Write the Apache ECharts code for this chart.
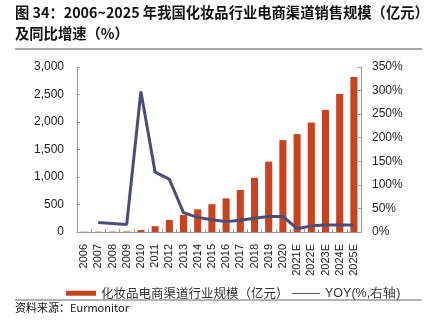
<!DOCTYPE html>
<html>
<head>
<meta charset="utf-8">
<script src="https://cdn.jsdelivr.net/npm/echarts@6/dist/echarts.min.js"></script>
<style>
html,body{margin:0;padding:0;background:#fff;}
#c{width:430px;height:323px;}
</style>
</head>
<body>
<div id="c"></div>
<script>
var categories = ['2006','2007','2008','2009','2010','2011','2012','2013','2014','2015','2016','2017','2018','2019','2020','2021E','2022E','2023E','2024E','2025E'];
var scaleValues = [5,6,7,9,36,105,218,309,412,505,612,764,985,1280,1670,1780,1990,2220,2510,2820];
var yoyValues = [null,20,18,16,298,127,112,41,31,26,22,25,29,33,33,7,13,15,15,15];
var leftTicks = [0,500,1000,1500,2000,2500,3000];
var rightTicks = [0,50,100,150,200,250,300,350];
var titleLines = ['图 34：2006~2025 年我国化妆品行业电商渠道销售规模（亿元）','及同比增速（%）'];
var seriesNames = ['化妆品电商渠道行业规模（亿元）','YOY(%,右轴)'];
var sourceText = '资料来源：Eurmonitor';

var chart = echarts.init(document.getElementById('c'), null, {renderer:'canvas'});
var latin = 'Liberation Sans, Arial, sans-serif';
var cjk = '"Noto Sans CJK SC", "Liberation Sans", sans-serif';
chart.setOption({
  animation:false,
  backgroundColor:'#fff',
  graphic:[
    {type:'text', left:15, top:5, style:{text:titleLines[0], font:'bold 14.3px "Noto Sans CJK SC", sans-serif', fill:'#111'}},
    {type:'text', left:15, top:26, style:{text:titleLines[1], font:'bold 14.3px "Noto Sans CJK SC", sans-serif', fill:'#111'}},
    {type:'line', shape:{x1:15,y1:49,x2:422,y2:49}, style:{stroke:'#888', lineWidth:1.5}},
    {type:'line', shape:{x1:15,y1:300,x2:422,y2:300}, style:{stroke:'#666', lineWidth:1}},
    {type:'text', left:15, top:302, style:{text:sourceText, font:'11px "Noto Sans CJK SC", sans-serif', fill:'#111'}}
  ],
  grid:{left:77, right:69, top:67, bottom:91},
  legend:[{
    left:61, top:282, itemWidth:30, itemHeight:5,
    textStyle:{fontFamily:cjk, fontSize:12.5, color:'#333'},
    data:[{name:seriesNames[0], icon:'rect'}]
  },{
    left:287, top:282, itemWidth:28, itemHeight:5,
    textStyle:{fontFamily:latin, fontSize:12.5, color:'#333'},
    data:[{name:seriesNames[1], icon:'path://M0,2 L28,2 L28,3 L0,3 Z'}]
  }],
  xAxis:{
    type:'category', data:categories,
    axisLine:{lineStyle:{color:'#999'}},
    axisTick:{show:true, inside:true, length:3, lineStyle:{color:'#999'}},
    axisLabel:{rotate:90, fontSize:11, fontFamily:latin, color:'#222', margin:12, interval:0}
  },
  yAxis:[
    {type:'value', min:leftTicks[0], max:leftTicks[leftTicks.length-1], interval:500,
     axisLine:{show:true, lineStyle:{color:'#999'}},
     axisTick:{show:true, inside:true, length:3, lineStyle:{color:'#999'}},
     splitLine:{show:false},
     axisLabel:{fontSize:12, fontFamily:latin, color:'#222', margin:13,
       formatter:function(v){return v.toLocaleString('en-US');}}},
    {type:'value', min:rightTicks[0], max:rightTicks[rightTicks.length-1], interval:50,
     axisLine:{show:true, lineStyle:{color:'#999'}},
     axisTick:{show:true, inside:true, length:3, lineStyle:{color:'#999'}},
     splitLine:{show:false},
     axisLabel:{fontSize:12, fontFamily:latin, color:'#222', margin:11, formatter:'{value}%'}}
  ],
  series:[
    {name:seriesNames[0], type:'bar', data:scaleValues, barWidth:'50%', itemStyle:{color:'#C8431F'}},
    {name:seriesNames[1], type:'line', yAxisIndex:1, data:yoyValues, symbol:'none',
     lineStyle:{color:'#4B4C7A', width:3}, itemStyle:{color:'#4B4C7A'}}
  ]
});
</script>
</body>
</html>
